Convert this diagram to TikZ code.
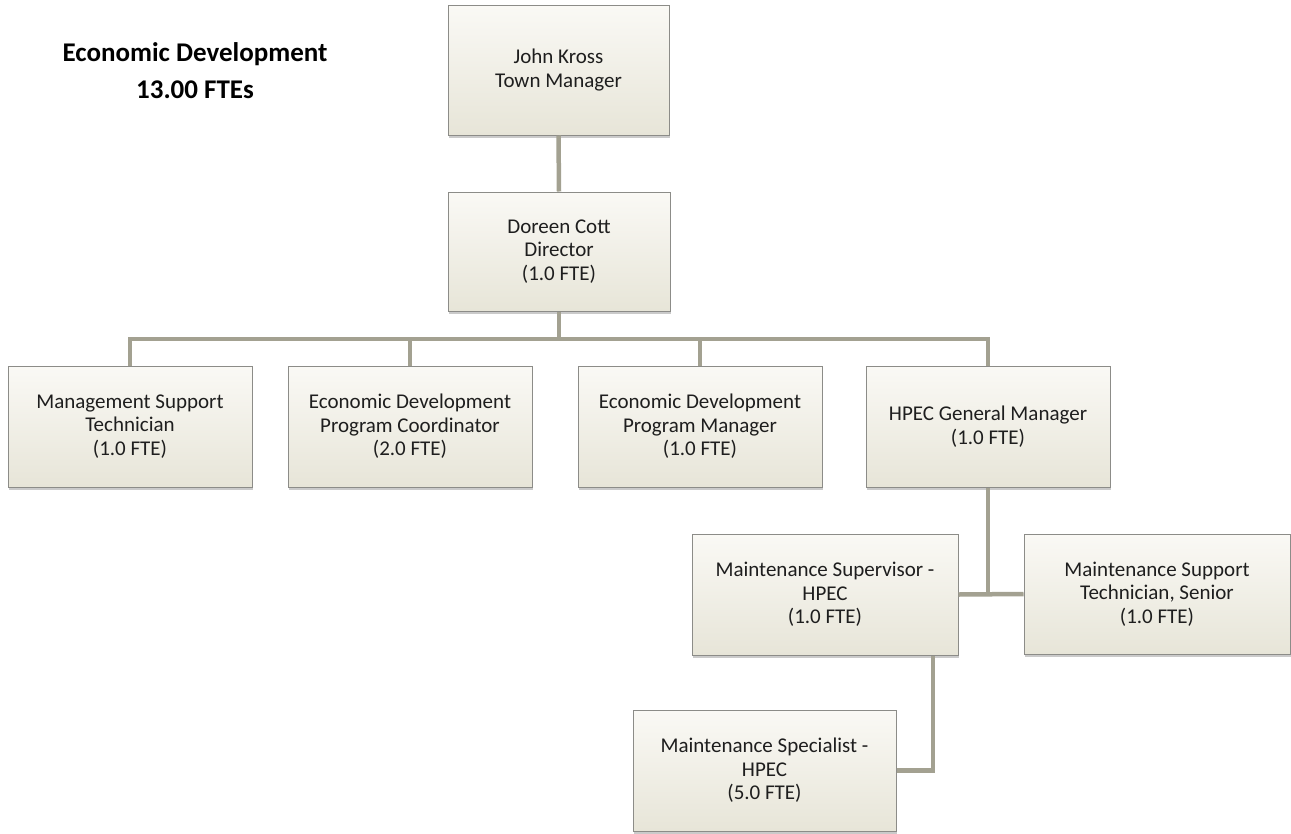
\documentclass[tikz,border=0pt]{standalone}
\usepackage{fontspec}
\setmainfont{Carlito}
\usetikzlibrary{shadows}
\definecolor{boxtop}{RGB}{250,249,245}
\definecolor{boxbot}{RGB}{231,229,216}
\definecolor{boxline}{RGB}{140,140,136}
\definecolor{conn}{RGB}{163,161,145}
\definecolor{txt}{RGB}{30,30,30}
\tikzset{
  orgbox/.style={rectangle, draw=boxline, line width=1pt, top color=boxtop, bottom color=boxbot,
    drop shadow={shadow xshift=1pt, shadow yshift=-3pt, opacity=0.35, fill=black!60},
    inner sep=0pt, align=center, text=txt,
    font=\fontsize{21}{23.5}\selectfont},
  wrow/.style={minimum width=244pt, minimum height=121pt},
  link/.style={draw=conn, line width=4.5pt}
}
\begin{document}
\begin{tikzpicture}[x=1pt,y=-1pt]
\useasboundingbox (0,0) rectangle (1291,833);
\node[align=center, font=\bfseries\fontsize{27}{37}\selectfont, text=black] (title) at (195,71) {Economic Development\\13.00 FTEs};
\node[orgbox, minimum width=221pt, minimum height=130pt] (jk) at (558.5,70) {John Kross\\Town Manager};
\node[orgbox, minimum width=222pt, minimum height=119pt] (dir) at (559,251.5) {Doreen Cott\\Director\\(1.0 FTE)};
\node[orgbox, wrow] (mst) at (130,426.5) {Management Support\\Technician\\(1.0 FTE)};
\node[orgbox, wrow] (edpc) at (410,426.5) {Economic Development\\Program Coordinator\\(2.0 FTE)};
\node[orgbox, wrow] (edpm) at (700,426.5) {Economic Development\\Program Manager\\(1.0 FTE)};
\node[orgbox, wrow] (gm) at (988,426.5) {HPEC General Manager\\(1.0 FTE)};
\node[orgbox, minimum width=266pt, minimum height=121pt] (sup) at (825,594.5) {Maintenance Supervisor -\\HPEC\\(1.0 FTE)};
\node[orgbox, minimum width=266pt, minimum height=120pt] (sst) at (1157,594) {Maintenance Support\\Technician, Senior\\(1.0 FTE)};
\node[orgbox, minimum width=263pt, minimum height=121pt] (spec) at (764.5,770.5) {Maintenance Specialist -\\HPEC\\(5.0 FTE)};
\coordinate (bus) at (559,339);
\draw[link] (jk.south) -- (dir.north);
\draw[link] (dir.south) -- (bus);
\draw[link] (mst.north) |- (bus) -| (gm.north);
\draw[link] (edpc.north) -- (edpc.north |- bus);
\draw[link] (edpm.north) -- (edpm.north |- bus);
\draw[link] (gm.south) -- (gm.south |- sup.east);
\draw[link] (sup.east) -- (sst.west);
\draw[link] ([xshift=108pt]sup.south) |- (spec.east);
\end{tikzpicture}
\end{document}
